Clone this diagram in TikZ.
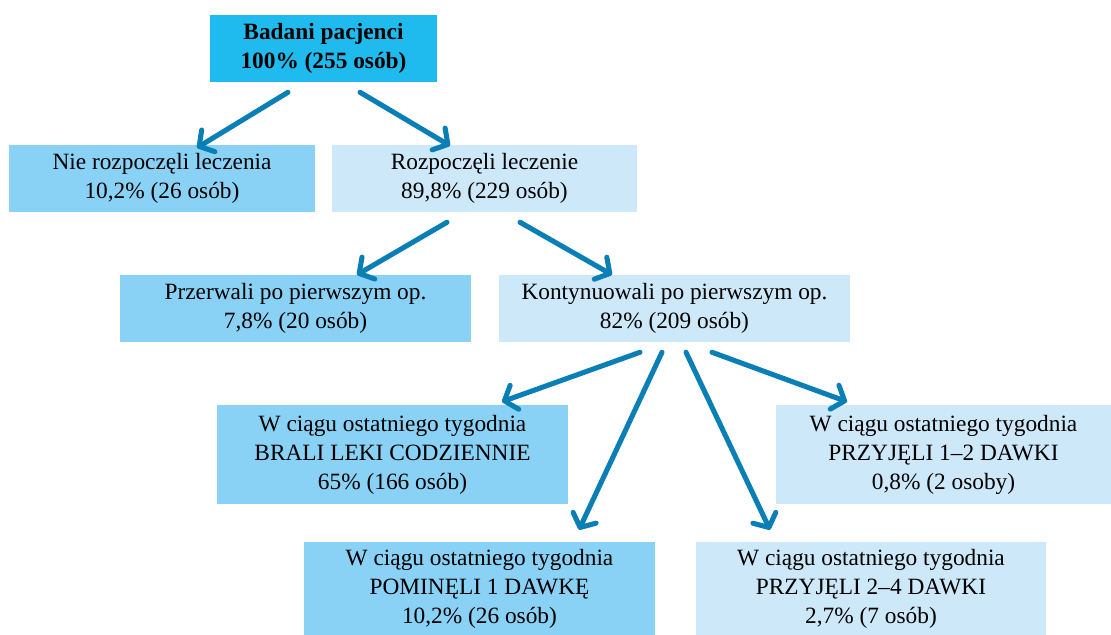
\documentclass[tikz,border=0pt]{standalone}
\usepackage{fontspec}
\setmainfont{Liberation Serif}
\usepackage{tikz}
\usetikzlibrary{calc}
\usetikzlibrary{arrows.meta, positioning}

\definecolor{topblue}{HTML}{1FBBEE}
\definecolor{midblue}{HTML}{89D1F5}
\definecolor{lightblue}{HTML}{CCE8F9}
\definecolor{arrowblue}{HTML}{0A7FB5}

\begin{document}
\begin{tikzpicture}[x=0.75pt, y=-0.75pt,
    box/.style={inner sep=0pt, align=center, font=\fontsize{17.5}{21.75}\selectfont},
    midbox/.style={box, fill=midblue},
    lightbox/.style={box, fill=lightblue},
    flow/.style={draw=arrowblue, line width=3.8pt, line cap=round,
        -{Straight Barb[length=8pt, width=19pt, round]}}]

\useasboundingbox (0,0) rectangle (1111,635);

% Top box
\node[box, fill=topblue, minimum width=170.25pt, minimum height=50.25pt] (top) at (323.5,48.5)
    {\textbf{Badani pacjenci}\\\textbf{100\% (255 osób)}};

% Second row
\node[midbox, minimum width=229.5pt, minimum height=50.25pt] (nie) at (162,178.5)
    {Nie rozpoczęli leczenia\\10,2\% (26 osób)};
\node[lightbox, minimum width=228.75pt, minimum height=50.25pt] (rozp) at (484.5,178.5)
    {Rozpoczęli leczenie\\89,8\% (229 osób)};

% Third row
\node[midbox, minimum width=263.25pt, minimum height=50.25pt] (przer) at (295.5,308.5)
    {Przerwali po pierwszym op.\\7,8\% (20 osób)};
\node[lightbox, minimum width=263.25pt, minimum height=50.25pt] (kont) at (674.5,308.5)
    {Kontynuowali po pierwszym op.\\82\% (209 osób)};

% Last week, upper pair
\node[midbox, minimum width=263.25pt, minimum height=74.25pt] (brali) at (392.5,454.5)
    {W ciągu ostatniego tygodnia\\BRALI LEKI CODZIENNIE\\65\% (166 osób)};
\node[lightbox, minimum width=251.25pt, minimum height=74.25pt] (dawki12) at (943.5,454.5)
    {W ciągu ostatniego tygodnia\\PRZYJĘLI 1--2 DAWKI\\0,8\% (2 osoby)};

% Last week, lower pair
\node[midbox, minimum width=263.25pt, minimum height=69.75pt] (pomin) at (479.5,588.5)
    {W ciągu ostatniego tygodnia\\POMINĘLI 1 DAWKĘ\\10,2\% (26 osób)};
\node[lightbox, minimum width=262.5pt, minimum height=69.75pt] (dawki24) at (871,588.5)
    {W ciągu ostatniego tygodnia\\PRZYJĘLI 2--4 DAWKI\\2,7\% (7 osób)};

% Arrows
\draw[flow] ($(top.south)+(-35.5,10)$) -- ($(nie.north)+(35,3)$);
\draw[flow] ($(top.south)+(36.5,10)$) -- ($(rozp.north)+(-34.5,1)$);
\draw[flow] ($(rozp.south)+(-37.5,10)$) -- ($(przer.north)+(61.5,0)$);
\draw[flow] ($(rozp.south)+(35.5,10)$) -- ($(kont.north)+(-62.5,0)$);
\draw[flow] ($(kont.south)+(-34.5,10)$) -- ($(brali.north)+(109.5,-3)$);
\draw[flow] ($(kont.south)+(-12.5,10)$) -- ($(pomin.north)+(99.5,-12)$);
\draw[flow] ($(kont.south)+(11.5,10)$) -- ($(dawki24.north)+(-101,-12)$);
\draw[flow] ($(kont.south)+(37.5,10)$) -- ($(dawki12.north)+(-96.5,-3)$);

\end{tikzpicture}
\end{document}
